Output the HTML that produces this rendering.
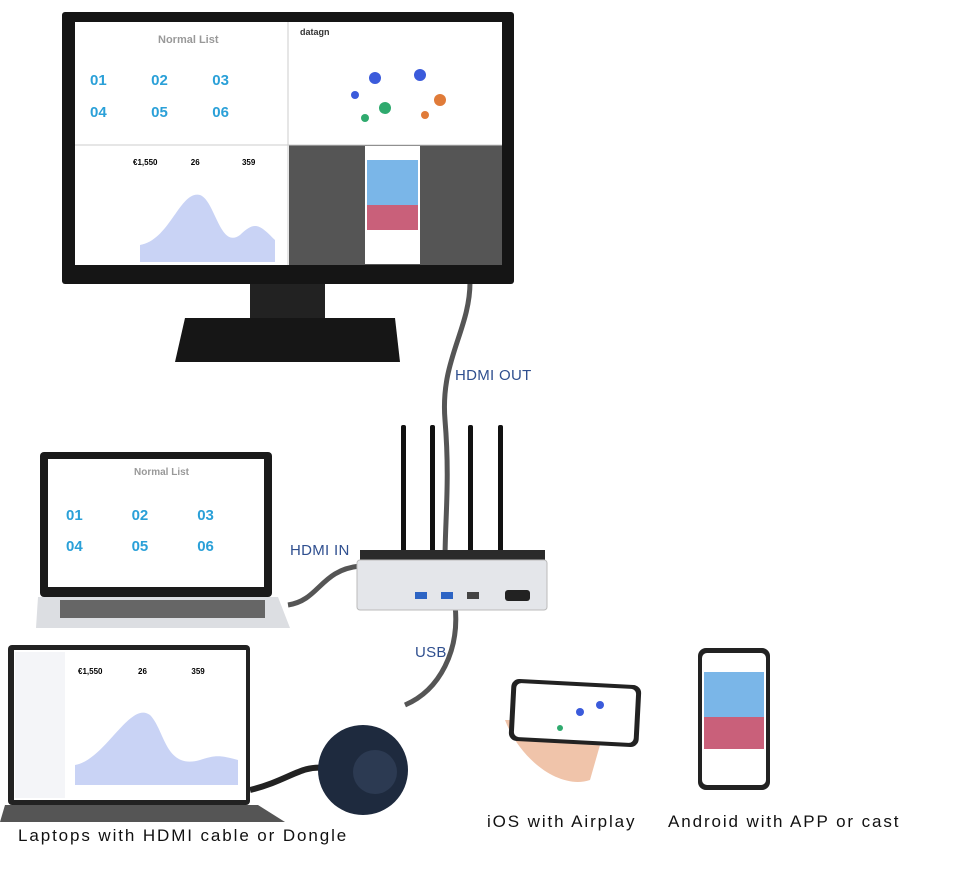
<!DOCTYPE html>
<html><head><meta charset="utf-8"><style>
body{margin:0;width:966px;height:872px;background:#fff;position:relative;overflow:hidden;font-family:"Liberation Sans",sans-serif}
.a{position:absolute}
.lbl{position:absolute;color:#2f4f8f;font-size:15px;letter-spacing:0.3px}
.cap{position:absolute;color:#111;font-size:17px;letter-spacing:1.9px}
.num{color:#2aa0d8;font-size:15px;font-weight:bold}
</style></head><body>
<svg class="a" style="left:0;top:0" width="966" height="872">
 <path d="M470 282 C470 330 440 360 445 420 C450 480 445 520 445 560" stroke="#555" stroke-width="5" fill="none"/>
 <path d="M288 605 C320 600 320 570 360 566" stroke="#555" stroke-width="5" fill="none"/>
 <path d="M455 605 C460 650 440 690 405 705" stroke="#555" stroke-width="5" fill="none"/>
 <path d="M250 790 C290 780 300 765 325 768" stroke="#222" stroke-width="6" fill="none"/>
 <rect x="62" y="12" width="452" height="272" rx="3" fill="#151515"/>
 <rect x="75" y="22" width="427" height="243" fill="#fff"/>
 <rect x="289" y="145" width="213" height="120" fill="#555"/>
 <line x1="288" y1="22" x2="288" y2="265" stroke="#ccc"/>
 <line x1="75" y1="145" x2="502" y2="145" stroke="#ccc"/>
 <rect x="365" y="146" width="55" height="118" fill="#fff"/>
 <rect x="367" y="160" width="51" height="45" fill="#7ab6e8"/>
 <rect x="367" y="205" width="51" height="25" fill="#c9607a"/>
 <path d="M140 245 C170 240 180 190 200 195 C215 200 220 250 240 235 C255 220 260 225 275 240 L275 262 L140 262Z" fill="#c9d3f5"/>
 <g fill="#3b5bdb"><circle cx="375" cy="78" r="6"/><circle cx="420" cy="75" r="6"/><circle cx="355" cy="95" r="4"/></g>
 <g fill="#e07b39"><circle cx="440" cy="100" r="6"/><circle cx="425" cy="115" r="4"/></g>
 <g fill="#2faa6e"><circle cx="385" cy="108" r="6"/><circle cx="365" cy="118" r="4"/></g>
 <path d="M250 284 H325 V318 H250Z" fill="#222"/>
 <path d="M185 318 H395 L400 362 H175Z" fill="#161616"/>
 <g fill="#111"><rect x="401" y="425" width="5" height="130" rx="2"/><rect x="430" y="425" width="5" height="130" rx="2"/><rect x="468" y="425" width="5" height="130" rx="2"/><rect x="498" y="425" width="5" height="130" rx="2"/></g>
 <rect x="360" y="550" width="185" height="12" fill="#2a2a2a"/>
 <rect x="357" y="560" width="190" height="50" rx="3" fill="#e4e6ea" stroke="#bbb"/>
 <g fill="#2d64c4"><rect x="415" y="592" width="12" height="7"/><rect x="441" y="592" width="12" height="7"/></g>
 <rect x="467" y="592" width="12" height="7" fill="#444"/>
 <rect x="505" y="590" width="25" height="11" rx="3" fill="#222"/>
 <rect x="40" y="452" width="232" height="145" rx="4" fill="#1a1a1a"/>
 <rect x="48" y="459" width="216" height="128" fill="#fff"/>
 <path d="M38 597 H278 L290 628 H36Z" fill="#dcdee2"/>
 <rect x="60" y="600" width="205" height="18" fill="#666"/>
 <rect x="8" y="645" width="242" height="160" rx="4" fill="#222"/>
 <rect x="14" y="650" width="232" height="150" fill="#fff"/>
 <rect x="15" y="652" width="50" height="146" fill="#f4f5f8"/>
 <path d="M75 765 C105 760 130 700 150 715 C165 730 165 770 200 760 C215 755 220 755 238 760 L238 785 L75 785Z" fill="#c9d3f5"/>
 <path d="M5 805 H258 L285 822 H0Z" fill="#555"/>
 <circle cx="363" cy="770" r="45" fill="#1e2a3e"/>
 <circle cx="375" cy="772" r="22" fill="#2c3a52"/>
 <path d="M505 720 C520 760 560 790 590 780 L600 745 L560 720Z" fill="#f0c4aa"/>
 <rect x="510" y="682" width="130" height="62" rx="8" fill="#222" transform="rotate(3 575 713)"/>
 <rect x="515" y="686" width="120" height="54" rx="5" fill="#fff" transform="rotate(3 575 713)"/>
 <g fill="#3b5bdb"><circle cx="580" cy="712" r="4"/><circle cx="600" cy="705" r="4"/></g>
 <circle cx="560" cy="728" r="3" fill="#2faa6e"/>
 <rect x="698" y="648" width="72" height="142" rx="8" fill="#222"/>
 <rect x="702" y="653" width="64" height="132" rx="5" fill="#fff"/>
 <rect x="704" y="672" width="60" height="45" fill="#7ab6e8"/>
 <rect x="704" y="717" width="60" height="32" fill="#c9607a"/>
</svg>
<div class="a" style="left:158px;top:34px;color:#999;font-size:11px;font-weight:bold">Normal List</div>
<div class="a" style="left:90px;top:65px;line-height:32px"><span class="num">01</span>&nbsp;&nbsp;&nbsp;&nbsp;&nbsp;&nbsp;&nbsp;&nbsp;&nbsp;&nbsp;<span class="num">02</span>&nbsp;&nbsp;&nbsp;&nbsp;&nbsp;&nbsp;&nbsp;&nbsp;&nbsp;&nbsp;<span class="num">03</span><br><span class="num">04</span>&nbsp;&nbsp;&nbsp;&nbsp;&nbsp;&nbsp;&nbsp;&nbsp;&nbsp;&nbsp;<span class="num">05</span>&nbsp;&nbsp;&nbsp;&nbsp;&nbsp;&nbsp;&nbsp;&nbsp;&nbsp;&nbsp;<span class="num">06</span></div>
<div class="a" style="left:300px;top:27px;font-size:9px;font-weight:bold;color:#333">datagn</div>
<div class="a" style="left:133px;top:158px;font-size:8px;font-weight:bold">€1,550 &nbsp;&nbsp;&nbsp;&nbsp;&nbsp;&nbsp;&nbsp;&nbsp;&nbsp;&nbsp;&nbsp;&nbsp;&nbsp;&nbsp;26 &nbsp;&nbsp;&nbsp;&nbsp;&nbsp;&nbsp;&nbsp;&nbsp;&nbsp;&nbsp;&nbsp;&nbsp;&nbsp;&nbsp;&nbsp;&nbsp;&nbsp;&nbsp;359</div>
<div class="a" style="left:134px;top:467px;color:#999;font-size:10px;font-weight:bold">Normal List</div>
<div class="a" style="left:66px;top:500px;line-height:31px"><span class="num">01</span>&nbsp;&nbsp;&nbsp;&nbsp;&nbsp;&nbsp;&nbsp;&nbsp;&nbsp;&nbsp;&nbsp;<span class="num">02</span>&nbsp;&nbsp;&nbsp;&nbsp;&nbsp;&nbsp;&nbsp;&nbsp;&nbsp;&nbsp;&nbsp;<span class="num">03</span><br><span class="num">04</span>&nbsp;&nbsp;&nbsp;&nbsp;&nbsp;&nbsp;&nbsp;&nbsp;&nbsp;&nbsp;&nbsp;<span class="num">05</span>&nbsp;&nbsp;&nbsp;&nbsp;&nbsp;&nbsp;&nbsp;&nbsp;&nbsp;&nbsp;&nbsp;<span class="num">06</span></div>
<div class="a" style="left:78px;top:667px;font-size:8px;font-weight:bold">€1,550 &nbsp;&nbsp;&nbsp;&nbsp;&nbsp;&nbsp;&nbsp;&nbsp;&nbsp;&nbsp;&nbsp;&nbsp;&nbsp;&nbsp;&nbsp;26 &nbsp;&nbsp;&nbsp;&nbsp;&nbsp;&nbsp;&nbsp;&nbsp;&nbsp;&nbsp;&nbsp;&nbsp;&nbsp;&nbsp;&nbsp;&nbsp;&nbsp;&nbsp;&nbsp;359</div>
<div class="lbl" style="left:455px;top:367px">HDMI OUT</div>
<div class="lbl" style="left:290px;top:542px">HDMI IN</div>
<div class="lbl" style="left:415px;top:644px">USB</div>
<div class="cap" style="left:18px;top:826px">Laptops with HDMI cable or Dongle</div>
<div class="cap" style="left:487px;top:812px">iOS with Airplay</div>
<div class="cap" style="left:668px;top:812px">Android with APP or cast</div>
</body></html>
